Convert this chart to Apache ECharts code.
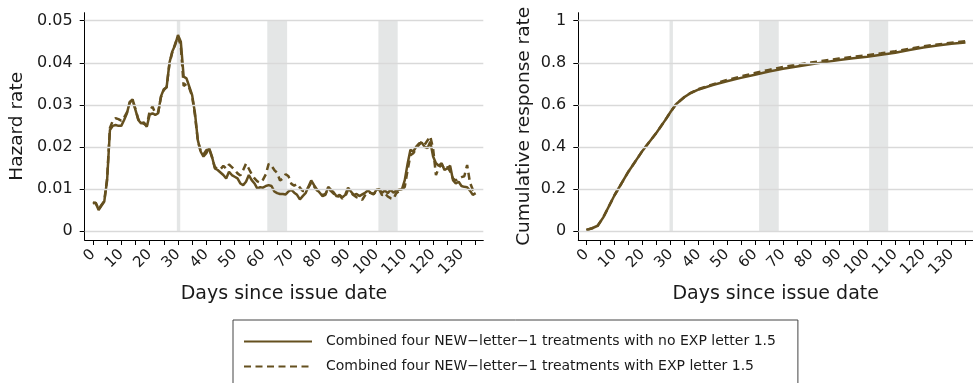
<!DOCTYPE html>
<html>
<head>
<meta charset="utf-8">
<script src="https://cdn.jsdelivr.net/npm/echarts@6/dist/echarts.min.js"></script>
<style>
  html, body { margin: 0; padding: 0; background: #fff; }
  #chart { width: 973px; height: 383px; }
</style>
</head>
<body>
<div id="chart"></div>
<script>
// days since issue date (hazard rates are daily)
const days = [0,1,2,3,4,5,6,7,8,9,10,11,12,13,14,15,16,17,18,19,20,21,22,23,24,25,26,27,28,29,
  30,31,32,33,34,35,36,37,38,39,40,41,42,43,44,45,46,47,48,49,50,51,52,53,54,55,56,57,58,59,
  60,61,62,63,64,65,66,67,68,69,70,71,72,73,74,75,76,77,78,79,80,81,82,83,84,85,86,87,88,89,
  90,91,92,93,94,95,96,97,98,99,100,101,102,103,104,105,106,107,108,109,110,111,112,113,114,
  115,116,117,118,119,120,121,122,123,124,125,126,127,128,129,130,131,132,133,134,135]

const hazardNoExp = [0.0066,0.0067,0.0050,0.0060,0.0070,0.0120,0.0240,0.0250,0.0252,0.0250,
  0.0250,0.0264,0.0280,0.0307,0.0313,0.0288,0.0264,0.0256,0.0258,0.0248,
  0.0276,0.0280,0.0276,0.0280,0.0320,0.0337,0.0342,0.0400,0.0427,0.0442,
  0.0466,0.0450,0.0367,0.0363,0.0343,0.0323,0.0280,0.0216,0.0189,0.0177,
  0.0185,0.0197,0.0177,0.0149,0.0145,0.0139,0.0133,0.0125,0.0141,0.0133,
  0.0129,0.0125,0.0113,0.0109,0.0117,0.0133,0.0121,0.0113,0.0101,0.0104,
  0.0103,0.0107,0.0109,0.0107,0.0094,0.0090,0.0088,0.0088,0.0087,0.0094,
  0.0098,0.0091,0.0086,0.0075,0.0083,0.0090,0.0105,0.0120,0.0109,0.0099,
  0.0091,0.0083,0.0086,0.0105,0.0098,0.0091,0.0082,0.0086,0.0080,0.0086,
  0.0103,0.0094,0.0086,0.0088,0.0083,0.0087,0.0091,0.0096,0.0091,0.0087,
  0.0098,0.0099,0.0091,0.0096,0.0090,0.0098,0.0091,0.0096,0.0098,0.0099,
  0.0121,0.0160,0.0193,0.0189,0.0200,0.0208,0.0210,0.0200,0.0197,0.0212,
  0.0177,0.0161,0.0155,0.0161,0.0145,0.0149,0.0155,0.0121,0.0113,0.0117,
  0.0107,0.0105,0.0104,0.0096,0.0086,0.0090]

const hazardExp = [0.0068,0.0066,0.0052,0.0062,0.0071,0.0125,0.0245,0.0262,0.0268,0.0266,
  0.0262,0.0270,0.0282,0.0305,0.0312,0.0290,0.0266,0.0258,0.0255,0.0250,
  0.0285,0.0296,0.0280,0.0282,0.0318,0.0335,0.0342,0.0398,0.0425,0.0445,
  0.0462,0.0440,0.0345,0.0350,0.0340,0.0320,0.0275,0.0215,0.0190,0.0182,
  0.0192,0.0195,0.0175,0.0152,0.0148,0.0147,0.0155,0.0148,0.0158,0.0152,
  0.0145,0.0137,0.0132,0.0145,0.0160,0.0148,0.0135,0.0125,0.0118,0.0115,
  0.0122,0.0135,0.0160,0.0155,0.0145,0.0138,0.0120,0.0125,0.0135,0.0130,
  0.0112,0.0108,0.0112,0.0103,0.0095,0.0095,0.0103,0.0115,0.0106,0.0097,
  0.0090,0.0085,0.0088,0.0100,0.0095,0.0088,0.0080,0.0084,0.0077,0.0082,
  0.0098,0.0090,0.0085,0.0080,0.0078,0.0074,0.0085,0.0092,0.0090,0.0088,
  0.0094,0.0098,0.0085,0.0090,0.0082,0.0078,0.0076,0.0090,0.0095,0.0098,
  0.0105,0.0145,0.0180,0.0185,0.0195,0.0205,0.0212,0.0205,0.0215,0.0225,
  0.0195,0.0133,0.0150,0.0158,0.0148,0.0152,0.0142,0.0125,0.0120,0.0125,
  0.0128,0.0130,0.0157,0.0115,0.0098,0.0095]

// cumulative response rate, read at these days
const cumDays = [0,2,4,6,10,15,20,25,28,30,32,35,37,40,45,50,55,60,65,70,75,80,85,90,95,100,105,110,115,120,125,130,135]
const cumNoExp = [0.005,0.013,0.025,0.065,0.170,0.283,0.382,0.468,0.526,0.567,0.604,0.638,0.655,0.673,0.694,0.712,0.728,0.743,0.758,0.771,0.782,0.793,0.803,0.813,0.821,0.829,0.838,0.848,0.861,0.873,0.882,0.890,0.896]
const cumExp = [0.005,0.013,0.025,0.065,0.170,0.283,0.382,0.468,0.526,0.567,0.604,0.638,0.656,0.675,0.697,0.718,0.735,0.751,0.766,0.780,0.791,0.801,0.811,0.820,0.828,0.836,0.845,0.855,0.867,0.878,0.887,0.895,0.902]

// shaded periods (days)
const bands = [[29.6, 30.8], [61.5, 68.5], [100.7, 107.5]]

const xMinorTicks = [0,5,10,15,20,25,30,35,40,45,50,55,60,65,70,75,80,85,90,95,100,105,110,115,120,125,130,135]
const xTickLabels = [0,10,20,30,40,50,60,70,80,90,100,110,120,130]
const hazardTicks = [0,0.01,0.02,0.03,0.04,0.05]
const cumTicks = [0,0.2,0.4,0.6,0.8,1]

const seriesNames = ['Combined four NEW\u2212letter\u22121 treatments with no EXP letter 1.5',
  'Combined four NEW\u2212letter\u22121 treatments with EXP letter 1.5']

const lineColor = '#65501f'
const gridColor = '#d9d9d9'
const bandColor = '#e4e6e6'
const textColor = '#1a1a1a'
const font = 'DejaVu Sans, sans-serif'

function xAxis(gridIndex) {
  return {
    type: 'value', gridIndex: gridIndex, min: -2.9, max: 137.7,
    name: 'Days since issue date', nameLocation: 'middle', nameGap: 40,
    nameTextStyle: { fontSize: 19, color: textColor, fontFamily: font },
    axisLine: { show: true, onZero: false, lineStyle: { color: '#000', width: 1 } },
    axisTick: { show: true, customValues: xMinorTicks, length: 5, lineStyle: { color: '#000' } },
    axisLabel: { customValues: xTickLabels, rotate: 45, margin: 12, fontSize: 15, color: textColor, fontFamily: font },
    splitLine: { show: false }
  }
}

function yAxis(gridIndex, min, max, ticks, name, gap, fmt) {
  return {
    type: 'value', gridIndex: gridIndex, min: min, max: max,
    name: name, nameLocation: 'middle', nameRotate: 90, nameGap: gap,
    nameTextStyle: { fontSize: 18.5, color: textColor, fontFamily: font },
    axisLine: { show: true, onZero: false, lineStyle: { color: '#000', width: 1 } },
    axisTick: { show: true, customValues: ticks, length: 5, lineStyle: { color: '#000' } },
    axisLabel: { customValues: ticks, margin: 12, fontSize: 16, color: textColor, fontFamily: font, formatter: fmt },
    splitLine: { show: false }
  }
}

function gridLines(idx, ticks) {
  return {
    type: 'line', xAxisIndex: idx, yAxisIndex: idx, data: [], z: 1, silent: true,
    markLine: {
      silent: true, symbol: 'none', label: { show: false },
      lineStyle: { color: gridColor, width: 1.3, type: 'solid' },
      data: ticks.map(t => ({ yAxis: t }))
    }
  }
}

function shading(idx, top) {
  return {
    type: 'line', xAxisIndex: idx, yAxisIndex: idx, data: [], z: 2, silent: true,
    markArea: {
      silent: true,
      itemStyle: { color: bandColor },
      data: bands.map(b => [{ xAxis: b[0], yAxis: 0 }, { xAxis: b[1], yAxis: top }])
    }
  }
}

function line(idx, name, xs, ys, dashed) {
  return {
    type: 'line', name: name, xAxisIndex: idx, yAxisIndex: idx, z: 3,
    data: xs.map((d, i) => [d, ys[i]]),
    showSymbol: false, symbol: 'none',
    lineStyle: { color: lineColor, width: 2.5, type: dashed ? [7, 4.5] : 'solid' },
    itemStyle: { color: lineColor },
    animation: false
  }
}

const chart = echarts.init(document.getElementById('chart'))
chart.setOption({
  animation: false,
  grid: [
    { left: 84.7, top: 12.7, width: 398.6, height: 227.3 },
    { left: 578.3, top: 12.7, width: 398.6, height: 227.3 }
  ],
  xAxis: [xAxis(0), xAxis(1)],
  yAxis: [
    yAxis(0, -0.00214, 0.0519, hazardTicks, 'Hazard rate', 58, v => v === 0 ? '0' : v.toFixed(2)),
    yAxis(1, -0.0428, 1.038, cumTicks, 'Cumulative response rate', 45, v => String(v))
  ],
  legend: {
    data: seriesNames,
    orient: 'vertical', left: 233, top: 320, height: 100,
    padding: [14.5, 22, 20, 10], itemGap: 11,
    itemWidth: 68, itemHeight: 14,
    borderColor: '#444', borderWidth: 1,
    selectedMode: false,
    itemStyle: { opacity: 0 },
    textStyle: { fontSize: 14, color: textColor, fontFamily: font, padding: [0, 0, 0, 9] }
  },
  series: [
    gridLines(0, hazardTicks), shading(0, 0.05),
    gridLines(1, cumTicks), shading(1, 1),
    line(0, seriesNames[0], days, hazardNoExp, false),
    line(0, seriesNames[1], days, hazardExp, true),
    line(1, seriesNames[0], cumDays, cumNoExp, false),
    line(1, seriesNames[1], cumDays, cumExp, true)
  ]
})
</script>
</body>
</html>
